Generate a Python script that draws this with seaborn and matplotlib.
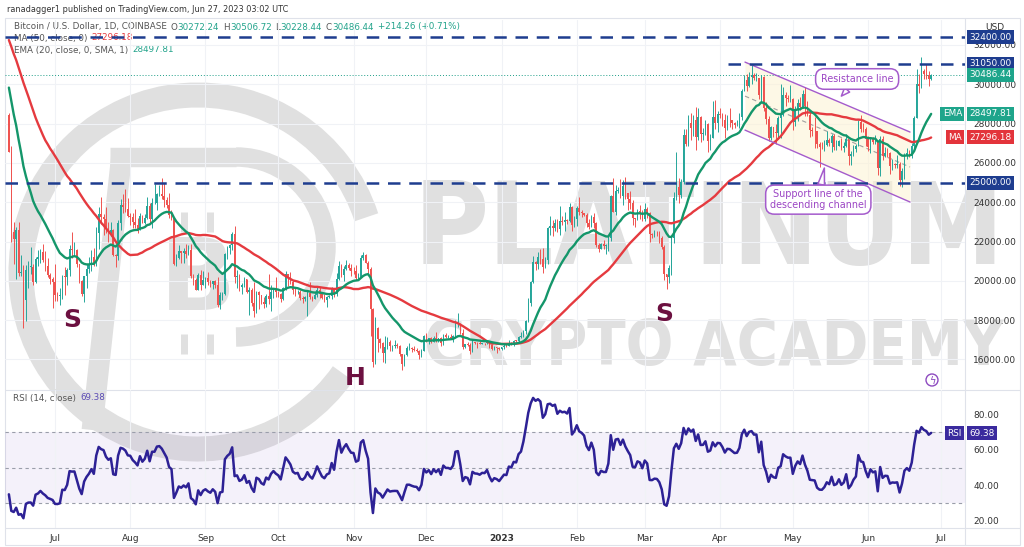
import numpy as np
import pandas as pd
import matplotlib
matplotlib.use("Agg")
import matplotlib.pyplot as plt
import matplotlib.dates as mdates
from matplotlib import font_manager as fm
from matplotlib.patches import Arc, Rectangle, Circle
import seaborn as sns

# ---------------------------------------------------------------- data
warmup_start = "2022-04-24"
start_date = "2022-06-12"
warmup_close = [39450, 40430, 38110, 39240, 39740, 38600, 37640,
                38470, 38520, 37730, 39700, 36580, 36010, 35470, 34060, 30300, 31010, 28940, 29040,
                29290, 29860, 31310, 29930, 30440, 28720, 30300, 29200, 29430, 30310, 29100, 29650,
                29540, 29200, 28630, 29030, 29470, 31730, 31800,
                29800, 30470, 29700, 29860, 29910, 31370, 31130, 30200, 30110, 29080, 28420]

close_2022_06 = [26580, 22490, 22130, 22580, 20380, 20450, 19010, 20560, 20710, 20720, 19960, 21100, 21230, 21490, 21040, 20730, 20270, 20110, 19930]
high_2022_06 = [28540, 26880, 23000, 22720, 22970, 21330, 20780, 20800, 21000, 21700, 20860, 21200, 21560, 21600, 21850, 21520, 21180, 20400, 20170]
low_2022_06 = [26560, 22000, 20850, 20070, 20230, 20240, 17600, 17930, 19640, 20350, 19790, 19900, 20750, 20900, 20980, 20510, 20200, 19830, 18630]

close_2022_07 = [19280, 19250, 19300, 20230, 20190, 20550, 21620, 21580, 21590, 20840, 19970, 19330, 20220, 20580, 20830, 21190, 20790, 22420, 23400, 23230, 23160, 22680, 22450, 22580, 21310, 21250, 22960, 23840, 23780, 23640, 23300]
high_2022_07 = [20870, 19430, 19640, 20300, 20700, 20660, 21830, 22500, 21950, 21600, 20840, 20050, 20250, 20880, 21200, 21580, 21650, 22740, 23750, 24270, 23420, 23750, 22990, 23000, 22640, 21350, 23080, 24180, 24440, 24650, 24190]
low_2022_07 = [18980, 18980, 18780, 19060, 19300, 19780, 20240, 21180, 21300, 20680, 19900, 19230, 18910, 19630, 20380, 20480, 20760, 20770, 21600, 22910, 22350, 22450, 21960, 22270, 21260, 20720, 21060, 22580, 23430, 23510, 23230]

close_2022_08 = [23270, 22980, 22820, 22620, 23310, 22960, 23180, 23810, 23160, 23950, 23950, 24400, 24440, 24310, 24090, 23860, 23340, 23210, 20840, 21150, 21520, 21400, 21530, 21370, 21580, 20240, 20030, 19550, 20290, 19810, 20050]
high_2022_08 = [23470, 23450, 23640, 23220, 23460, 23350, 23380, 24250, 23940, 24230, 24920, 24460, 24890, 25210, 25000, 24250, 24450, 23600, 23200, 21380, 21800, 21530, 21650, 21880, 21810, 21870, 20350, 20130, 20390, 20560, 20480]
low_2022_08 = [22850, 22670, 22690, 22440, 22590, 22940, 22880, 23150, 22880, 22700, 23920, 23620, 24310, 24170, 23780, 23700, 23200, 23110, 20800, 20760, 21120, 20890, 20900, 21160, 21320, 20120, 19810, 19540, 19560, 19550, 19870]

close_2022_09 = [20130, 19950, 19830, 19990, 19800, 18790, 19290, 19320, 21360, 21650, 21830, 22400, 20180, 20240, 19700, 19800, 20110, 19420, 19540, 18880, 18480, 19410, 19290, 18930, 18800, 19230, 19080, 19420, 19590, 19420]
high_2022_09 = [20200, 20440, 20020, 20010, 20040, 20180, 19450, 19450, 21420, 21780, 21850, 22480, 22780, 20530, 20330, 19890, 20190, 20100, 19690, 19640, 19950, 19490, 19500, 19300, 19200, 19310, 20350, 19780, 19640, 20180]
low_2022_09 = [19650, 19770, 19660, 19600, 19640, 18650, 18540, 19020, 19290, 21120, 21360, 21560, 19880, 19630, 19500, 19330, 19700, 19380, 18280, 18720, 18160, 18370, 18540, 18820, 18640, 18680, 18840, 18480, 19140, 19170]

close_2022_10 = [19310, 19050, 19630, 20340, 20160, 19950, 19530, 19420, 19450, 19130, 19060, 19160, 19380, 19180, 19070, 19270, 19550, 19330, 19120, 19040, 19170, 19210, 19570, 19330, 20090, 20770, 20290, 20600, 20810, 20630, 20490]
high_2022_10 = [19480, 19400, 19710, 20480, 20370, 20450, 20050, 19610, 19520, 19520, 19250, 19220, 19510, 19940, 19230, 19410, 19680, 19700, 19350, 19340, 19250, 19260, 19700, 19600, 20400, 21020, 20870, 20740, 21080, 20930, 20830]
low_2022_10 = [19160, 18930, 19000, 19510, 19740, 19860, 19330, 19250, 19320, 19040, 18870, 18990, 18200, 19090, 18980, 19070, 19160, 19110, 19080, 18920, 18660, 19110, 19070, 19170, 19240, 20060, 20210, 20010, 20570, 20540, 20240]

close_2022_11 = [20480, 20160, 20210, 21150, 21300, 20920, 20600, 18540, 15880, 17590, 17040, 16850, 16330, 16620, 16900, 16660, 16690, 16700, 16690, 16290, 15790, 16200, 16600, 16600, 16520, 16460, 16440, 16220, 16440, 17170]
high_2022_11 = [20700, 20790, 20390, 21300, 21480, 21370, 21000, 20690, 18600, 18160, 17640, 17080, 16900, 17170, 17120, 17000, 16750, 17000, 16820, 16740, 16290, 16280, 16700, 16810, 16610, 16690, 16600, 16480, 16540, 17250]
low_2022_11 = [20350, 20060, 20050, 20180, 21080, 20890, 20400, 17170, 15590, 15750, 16370, 16560, 15880, 15820, 16540, 16440, 16450, 16560, 16560, 16180, 15480, 15680, 16170, 16480, 16360, 16410, 16400, 16020, 16120, 16420]

close_2022_12 = [16980, 17090, 16890, 17110, 16970, 17090, 16840, 17230, 17130, 17130, 17090, 17210, 17780, 17810, 17360, 16630, 16780, 16740, 16440, 16900, 16830, 16820, 16780, 16840, 16830, 16920, 16710, 16550, 16630, 16600, 16540]
high_2022_12 = [17320, 17100, 17150, 17200, 17420, 17110, 17140, 17300, 17350, 17220, 17270, 17240, 18000, 18380, 17850, 17530, 16800, 16870, 16820, 17060, 16880, 16870, 16950, 16860, 16860, 16940, 16960, 16780, 16660, 16640, 16630]
low_2022_12 = [16870, 16790, 16860, 16880, 16880, 16910, 16690, 16740, 17080, 17100, 17070, 16880, 17080, 17660, 17280, 16550, 16590, 16660, 16300, 16400, 16760, 16590, 16760, 16790, 16730, 16780, 16600, 16470, 16490, 16330, 16490]

close_2023_01 = [16610, 16680, 16670, 16850, 16830, 16950, 16940, 17120, 17180, 17440, 17940, 18850, 19930, 20950, 20870, 21190, 21130, 20680, 21080, 22670, 22780, 22710, 22920, 22630, 23060, 23010, 23080, 23030, 23740, 22830, 23130]
high_2023_01 = [16630, 16760, 16770, 16990, 16880, 17010, 16970, 17180, 17400, 17490, 17990, 19100, 19990, 21260, 20990, 21460, 21620, 21650, 21190, 22750, 23300, 23080, 23170, 23170, 23800, 23280, 23480, 23170, 23960, 23800, 23310]
low_2023_01 = [16500, 16550, 16610, 16660, 16750, 16680, 16910, 16910, 17100, 17160, 17310, 17920, 18720, 19890, 20560, 20620, 20860, 20410, 20660, 20860, 22330, 22300, 22510, 22470, 22330, 22830, 22520, 22880, 23000, 22550, 22730]

close_2023_02 = [23730, 23490, 23430, 23330, 22930, 22760, 23250, 22960, 21800, 21630, 21860, 21790, 21790, 22200, 24330, 23520, 24570, 24640, 24300, 24840, 24450, 24180, 23940, 23190, 23150, 23560, 23490, 23140]
high_2023_02 = [23810, 24250, 23590, 23470, 23430, 23160, 23370, 23450, 22990, 21940, 21900, 22080, 21890, 22320, 24370, 25250, 24880, 24770, 25190, 25120, 25270, 24480, 24590, 24130, 23220, 23660, 23880, 23600]
low_2023_02 = [22800, 23360, 23230, 23300, 22760, 22640, 22730, 22680, 21700, 21470, 21610, 21640, 21360, 21540, 22050, 23500, 23340, 24450, 24230, 23840, 24160, 23600, 23630, 22850, 22730, 23070, 23130, 23030]

close_2023_03 = [23640, 23470, 22360, 22350, 22430, 22410, 22200, 21710, 20360, 20190, 20630, 22160, 24200, 24750, 24380, 25050, 27430, 26940, 28030, 27780, 28170, 27300, 28350, 27470, 27490, 27990, 27130, 27270, 28350, 28030, 28480]
high_2023_03 = [23960, 23780, 23480, 22420, 22610, 22550, 22530, 22270, 21810, 20290, 20810, 22190, 24530, 26540, 25230, 25180, 27700, 27750, 28440, 28530, 28460, 28840, 28800, 28390, 27800, 28200, 28020, 27490, 29170, 29180, 28660]
low_2023_03 = [23020, 23200, 22000, 22190, 22220, 22270, 21930, 21600, 20050, 19570, 19900, 20270, 21920, 24130, 23960, 24200, 24940, 26870, 26870, 27160, 27380, 26650, 27190, 27040, 27170, 27420, 26540, 26640, 27260, 27700, 27550]

close_2023_04 = [28460, 28190, 27800, 28180, 28160, 28040, 27920, 27950, 28330, 29670, 30230, 29890, 30390, 30480, 30310, 30320, 29430, 30380, 28800, 28240, 27260, 27820, 27590, 27520, 28300, 28420, 29470, 29320, 29230, 29230]
high_2023_04 = [28800, 28520, 28500, 28450, 28770, 28180, 28100, 28180, 28530, 29780, 30480, 30510, 30610, 31000, 30590, 30550, 30320, 30490, 30410, 29100, 28370, 27880, 27820, 28000, 28380, 30020, 29880, 29600, 29450, 29960]
low_2023_04 = [28270, 27880, 27280, 27680, 27830, 27740, 27790, 27880, 27800, 28170, 29640, 29660, 29880, 29990, 30240, 30160, 29250, 29100, 28650, 28000, 27130, 27160, 27340, 26970, 27240, 27250, 28380, 28890, 29100, 29110]

close_2023_05 = [28070, 28670, 29030, 28840, 29530, 28900, 28430, 27660, 27630, 27600, 26980, 26800, 26790, 26920, 27160, 27030, 27390, 26830, 26880, 27100, 26750, 26850, 27220, 26330, 26470, 26720, 26870, 28080, 27740, 27700, 27210]
high_2023_05 = [29320, 28880, 29270, 29370, 29690, 29840, 29150, 28630, 27820, 28320, 27630, 27040, 27040, 27190, 27640, 27280, 27480, 27470, 27180, 27140, 27260, 27050, 27480, 27220, 26610, 26930, 26950, 28180, 28450, 28050, 27830]
low_2023_05 = [27680, 27880, 28130, 28700, 28800, 28400, 28380, 27320, 27370, 26770, 26750, 25810, 26700, 26610, 26870, 26850, 26550, 26640, 26670, 26840, 26670, 26540, 26810, 25880, 25870, 26340, 26570, 26860, 27560, 27560, 26860]

close_2023_06 = [26820, 27250, 27070, 27120, 25750, 27240, 26350, 26500, 26480, 25850, 25920, 25900, 25920, 25120, 25580, 26340, 26510, 26340, 26850, 28310, 30000, 29890, 30690, 30530, 30470, 30272.24, 30486.44]
high_2023_06 = [27350, 27300, 27340, 27440, 27130, 27360, 27360, 26790, 26780, 26530, 26200, 26000, 26400, 26070, 25740, 26480, 26770, 26680, 26990, 28400, 30800, 30500, 31400, 30800, 31050, 30660, 30506.72]
low_2023_06 = [26600, 26510, 26950, 26970, 25390, 25350, 26130, 26310, 26290, 25420, 25620, 25720, 25720, 24820, 24770, 25170, 26180, 26290, 26260, 26660, 28270, 29560, 29830, 30250, 30280, 29900, 30228.44]

level_prices = [32400, 31050, 25000]
level_31050_from = "2023-04-04 08:00"
last_price = 30486.44
ema_last, ma_last, rsi_last = 28497.81, 27296.18, 69.38
price_ticks = [16000, 18000, 20000, 22000, 24000, 26000, 28000, 30000, 32000]
rsi_ticks = [20, 40, 60, 80]
rsi_levels = [70, 50, 30]
month_starts = ["2022-07-01", "2022-08-01", "2022-09-01", "2022-10-01", "2022-11-01", "2022-12-01",
                "2023-01-01", "2023-02-01", "2023-03-01", "2023-04-01", "2023-05-01", "2023-06-01", "2023-07-01"]
month_labels = ["Jul", "Aug", "Sep", "Oct", "Nov", "Dec", "2023", "Feb", "Mar", "Apr", "May", "Jun", "Jul"]
channel_dates = ["2023-04-11 07:00", "2023-06-18 07:00"]
channel_res = [31130, 27570]
channel_sup = [27670, 24010]
pattern_labels = [("S", "2022-07-08", 18000), ("H", "2022-11-01 14:00", 15030), ("S", "2023-03-09", 18290)]

# ---------------------------------------------------------------- series
months = ["2022_06", "2022_07", "2022_08", "2022_09", "2022_10", "2022_11", "2022_12",
          "2023_01", "2023_02", "2023_03", "2023_04", "2023_05", "2023_06"]
g = globals()
vis_close = sum((g["close_" + m] for m in months), [])
vis_high = sum((g["high_" + m] for m in months), [])
vis_low = sum((g["low_" + m] for m in months), [])

all_close = pd.Series(warmup_close + vis_close, dtype=float,
                      index=pd.date_range(warmup_start, periods=len(warmup_close) + len(vis_close), freq="D"))
ema20 = all_close.ewm(span=20, adjust=False).mean()
sma50 = all_close.rolling(50).mean()
delta = all_close.diff()
gain = delta.clip(lower=0).ewm(alpha=1 / 14, adjust=False).mean()
loss = (-delta.clip(upper=0)).ewm(alpha=1 / 14, adjust=False).mean()
rsi = 100 - 100 / (1 + gain / loss)
opens = all_close.shift(1)

vis = all_close.index >= pd.Timestamp(start_date)
df = pd.DataFrame({"open": opens[vis].values, "close": all_close[vis].values,
                   "high": vis_high, "low": vis_low}, index=all_close.index[vis])
df["high"] = df[["high", "open", "close"]].max(axis=1)
df["low"] = df[["low", "open", "close"]].min(axis=1)
xd = mdates.date2num(df.index)

# ---------------------------------------------------------------- style
sns.set_theme(style="white")
plt.rcParams["font.family"] = ["DejaVu Sans"]

UP, DN = "#26a69a", "#ef5350"
EMA_C, MA_C = "#14966a", "#e53a3f"
NAVY = "#1e3d8f"
RSI_C = "#2d2195"
VIOLET = "#a45bcc"
GRID = "#f0f2f6"
BORDER = "#dfe2ea"
TXT = "#333333"
WM = "#e0e0e0"

W, H = 1024, 547
fig = plt.figure(figsize=(W / 100, H / 100), dpi=100)
fig.patch.set_facecolor("white")
L, R = 5, 965
T_MAIN, B_MAIN = 20, 389
T_RSI, B_RSI = 390, 528
PXD = 2.427  # pixels per day
x_jul = mdates.date2num(pd.Timestamp("2022-07-01"))
X_JUL_PX = 55


def dnum(s):
    return mdates.date2num(pd.Timestamp(s))


bg = fig.add_axes([0, 0, 1, 1], zorder=-5)
bg.set_xlim(0, W)
bg.set_ylim(H, 0)
bg.axis("off")

ax = fig.add_axes([L / W, 1 - B_MAIN / H, (R - L) / W, (B_MAIN - T_MAIN) / H], zorder=1)
rax = fig.add_axes([L / W, 1 - B_RSI / H, (R - L) / W, (B_RSI - T_RSI) / H], zorder=1)
for a in (ax, rax):
    a.set_facecolor("none")
    for sp in a.spines.values():
        sp.set_visible(False)
    a.set_xlim(x_jul - (X_JUL_PX - L) / PXD, x_jul + (R - X_JUL_PX) / PXD)

ax.set_ylim(14494, 33272)
rax.set_ylim(15.9, 93.7)

renderer = fig.canvas.get_renderer()

# ---------------------------------------------------------------- watermark
bg.add_patch(Arc((198, 272), 354, 354, theta1=35, theta2=342, lw=18, color=WM, zorder=0))
bg.add_patch(Arc((236, 247), 180, 180, theta1=-90, theta2=90, lw=14, color=WM, zorder=0))
bg.plot([110, 236], [157, 157], lw=14, color=WM, solid_capstyle="butt", zorder=0)
bg.plot([122, 92], [152, 430], lw=15, color=WM, solid_capstyle="butt", zorder=0)
bg.text(198, 283, "B", fontsize=72, fontweight="bold", color=WM, ha="center", va="center", zorder=0)
for xx in (184, 210):
    bg.plot([xx, xx], [212, 232], lw=5, color=WM, solid_capstyle="butt", zorder=0)
    bg.plot([xx, xx], [334, 354], lw=5, color=WM, solid_capstyle="butt", zorder=0)


def pick_condensed():
    best = None
    for f in fm.fontManager.ttflist:
        nm = (f.name + " " + f.fname).lower()
        st = str(f.stretch).lower()
        if ("condensed" in nm or "narrow" in nm or "condensed" in st) and "italic" not in nm \
                and "oblique" not in nm and f.style == "normal":
            w = f.weight if isinstance(f.weight, (int, float)) else {"bold": 700, "normal": 400}.get(f.weight, 400)
            sc = abs(w - 700)
            if best is None or sc < best[0]:
                best = (sc, f.fname)
    return best[1] if best else None


cond = pick_condensed()


def wm_text(s, cx, cy, tw, th):
    if cond:
        fp = fm.FontProperties(fname=cond)
    else:
        fp = fm.FontProperties(family="DejaVu Sans", weight="bold")
    t = bg.text(cx, cy, s, fontproperties=fp, color=WM, ha="center", va="center", zorder=0)
    t.set_fontsize(100)
    w = t.get_window_extent(renderer).width
    size = min(100 * tw / w, th * 1.0)
    t.set_fontsize(size)


wm_text("PLATINUM", 709, 233, 592, 118)
wm_text("CRYPTO ACADEMY", 714, 348, 580, 82)

# ---------------------------------------------------------------- frame
bg.add_patch(Rectangle((5, 18), 1015, 527, fc="none", ec=BORDER, lw=0.8, zorder=1))
bg.plot([R, R], [18, 545], color=BORDER, lw=0.8, zorder=1)
bg.plot([5, 1020], [389.5, 389.5], color=BORDER, lw=0.8, zorder=1)
bg.plot([5, 1020], [528, 528], color=BORDER, lw=0.8, zorder=1)

# ---------------------------------------------------------------- header texts


def seq_text(x, y, parts, size=6.3):
    for s, col in parts:
        if s == "":
            x += 4
            continue
        t = bg.text(x, y, s, color=col, fontsize=size, ha="left", va="center", zorder=2)
        x += t.get_window_extent(renderer).width


bg.text(7, 10, "ranadagger1 published on TradingView.com, Jun 27, 2023 03:02 UTC",
        fontsize=5.9, color=TXT, ha="left", va="center")
GR, TL = "#555555", "#22a38b"
seq_text(14, 27, [("Bitcoin / U.S. Dollar, 1D, COINBASE", GR), ("", None),
                  ("O", GR), ("30272.24", TL), ("", None), ("H", GR), ("30506.72", TL), ("", None),
                  ("L", GR), ("30228.44", TL), ("", None), ("C", GR), ("30486.44", TL), ("", None),
                  ("+214.26 (+0.71%)", TL)])
seq_text(14, 38, [("MA (50, close, 0)", GR), ("", None), (f"{ma_last:.2f}", MA_C)])
seq_text(14, 50, [("EMA (20, close, 0, SMA, 1)", GR), ("", None), (f"{ema_last:.2f}", TL)])
seq_text(13, 398, [("RSI (14, close)", GR), ("", None), (f"{rsi_last:.2f}", "#5a4bb5")])
bg.text(985, 27, "USD", fontsize=6.5, color=TXT, ha="left", va="center")

# lightning icon
bg.add_patch(Circle((932, 380), 6, fc="white", ec="#8e4bc0", lw=1.0, zorder=2))
bg.text(932, 380.5, "ϟ", fontsize=7, color="#8e4bc0", ha="center", va="center", zorder=3)

# ---------------------------------------------------------------- grid / ticks
month_x = [dnum(m) for m in month_starts]
for a in (ax, rax):
    a.set_xticks(month_x)
    a.grid(axis="x", color=GRID, lw=0.8)
    a.tick_params(length=0, labelsize=6.5, colors=TXT)
ax.set_xticklabels([])
rax.set_xticklabels(month_labels)
rax.tick_params(axis="x", pad=4)
for lab in rax.get_xticklabels():
    if lab.get_text() == "2023":
        lab.set_fontweight("bold")
ax.set_yticks(price_ticks)
ax.set_yticklabels([f"{p:.2f}" for p in price_ticks])
ax.grid(axis="y", color=GRID, lw=0.8)
ax.yaxis.tick_right()
ax.tick_params(axis="y", pad=6)
rax.set_yticks(rsi_ticks)
rax.set_yticklabels([f"{v:.2f}" for v in rsi_ticks])
rax.yaxis.tick_right()
rax.tick_params(axis="y", pad=6)
rax.grid(axis="y", visible=False)

# ---------------------------------------------------------------- channel
cx = [dnum(d) for d in channel_dates]
ax.fill_between(cx, channel_sup, channel_res, color="#fdf3d2", alpha=0.55, lw=0, zorder=1)
ax.plot(cx, channel_res, color=VIOLET, lw=1.0, zorder=6)
ax.plot(cx, channel_sup, color=VIOLET, lw=1.0, zorder=6)
ax.plot(cx, [(a + b) / 2 for a, b in zip(channel_sup, channel_res)], color="#a0a0a0", lw=0.8,
        ls=(0, (4, 3)), zorder=2)

# ---------------------------------------------------------------- candles
up = (df["close"] >= df["open"]).values
col = np.where(up, UP, DN)
ax.vlines(xd, df["low"], df["high"], colors=col, lw=0.7, zorder=3)
body = (df["close"] - df["open"]).abs().clip(lower=30)
ax.bar(xd, body, bottom=np.minimum(df["open"], df["close"]), width=0.62, color=col, lw=0, zorder=4)

sns.lineplot(x=xd, y=sma50[vis].values, ax=ax, color=MA_C, lw=1.7, zorder=5)
sns.lineplot(x=xd, y=ema20[vis].values, ax=ax, color=EMA_C, lw=1.7, zorder=5)
ax.set_xlabel("")
ax.set_ylabel("")

# levels
xl = ax.get_xlim()
dash = (0, (5, 3.5))
ax.hlines(level_prices[0], xl[0], xl[1], color=NAVY, lw=1.8, linestyles=dash, zorder=7)
ax.hlines(level_prices[1], dnum(level_31050_from), xl[1], color=NAVY, lw=1.8, linestyles=dash, zorder=7)
ax.hlines(level_prices[2], xl[0], xl[1], color=NAVY, lw=1.8, linestyles=dash, zorder=7)
ax.hlines(last_price, xl[0], xl[1], color="#1e9e87", lw=0.7, linestyles=(0, (1, 2)), zorder=2)

# pattern labels
for s, d, p in pattern_labels:
    ax.text(dnum(d), p, s, fontsize=18, fontweight="bold", color="#6c1040", ha="center", va="center", zorder=10)

# callouts
ax.annotate("Resistance line", xy=(dnum("2023-05-21"), 29400), xytext=(dnum("2023-05-27 12:00"), 30270),
            ha="center", va="center", fontsize=6.9, color="#9b45c4", zorder=12,
            bbox=dict(boxstyle="round,pad=0.55,rounding_size=0.9", fc="white", ec=VIOLET, lw=1.1),
            arrowprops=dict(arrowstyle="wedge,tail_width=0.7", fc="white", ec=VIOLET, lw=1.1,
                            shrinkA=0, shrinkB=0))
ax.annotate("Support line of the\ndescending channel", xy=(dnum("2023-05-14"), 25740),
            xytext=(dnum("2023-05-11 12:00"), 24130),
            ha="center", va="center", fontsize=6.9, color="#9b45c4", zorder=12, linespacing=1.05,
            bbox=dict(boxstyle="round,pad=0.45,rounding_size=0.9", fc="white", ec=VIOLET, lw=1.1),
            arrowprops=dict(arrowstyle="wedge,tail_width=0.7", fc="white", ec=VIOLET, lw=1.1,
                            shrinkA=0, shrinkB=0))

# ---------------------------------------------------------------- RSI
rax.axhspan(rsi_levels[2], rsi_levels[0], color="#7e57c2", alpha=0.08, lw=0, zorder=0)
for v in rsi_levels:
    rax.axhline(v, color="#9a9eaa", lw=0.8, ls=(0, (3, 3)), zorder=1)
sns.lineplot(x=xd, y=rsi[vis].values, ax=rax, color=RSI_C, lw=1.8, zorder=5)
rax.set_xlabel("")
rax.set_ylabel("")

# ---------------------------------------------------------------- badges


def badge(a, yv, text, fc, x_px=969, ha="left"):
    xf = (x_px - L) / (R - L)
    a.text(xf, yv, text, transform=a.get_yaxis_transform(), ha=ha, va="center", fontsize=6.4,
           color="white", clip_on=False, zorder=30,
           bbox=dict(boxstyle="square,pad=0.28", fc=fc, ec="none"))


badge(ax, level_prices[0], f"{level_prices[0]:.2f}", NAVY)
badge(ax, level_prices[1], f"{level_prices[1]:.2f}", NAVY)
badge(ax, last_price, f"{last_price:.2f}", "#1ea58b")
badge(ax, level_prices[2], f"{level_prices[2]:.2f}", NAVY)
badge(ax, ema_last, f"{ema_last:.2f}", "#1ea58b")
badge(ax, ema_last, "EMA", "#1ea58b", x_px=962, ha="right")
badge(ax, ma_last, f"{ma_last:.2f}", "#e3343b")
badge(ax, ma_last, "MA", "#e3343b", x_px=962, ha="right")
badge(rax, rsi_last, f"{rsi_last:.2f}", "#3a2a9e")
badge(rax, rsi_last, "RSI", "#3a2a9e", x_px=962, ha="right")

fig.savefig("out.png", dpi=100, facecolor="white")
